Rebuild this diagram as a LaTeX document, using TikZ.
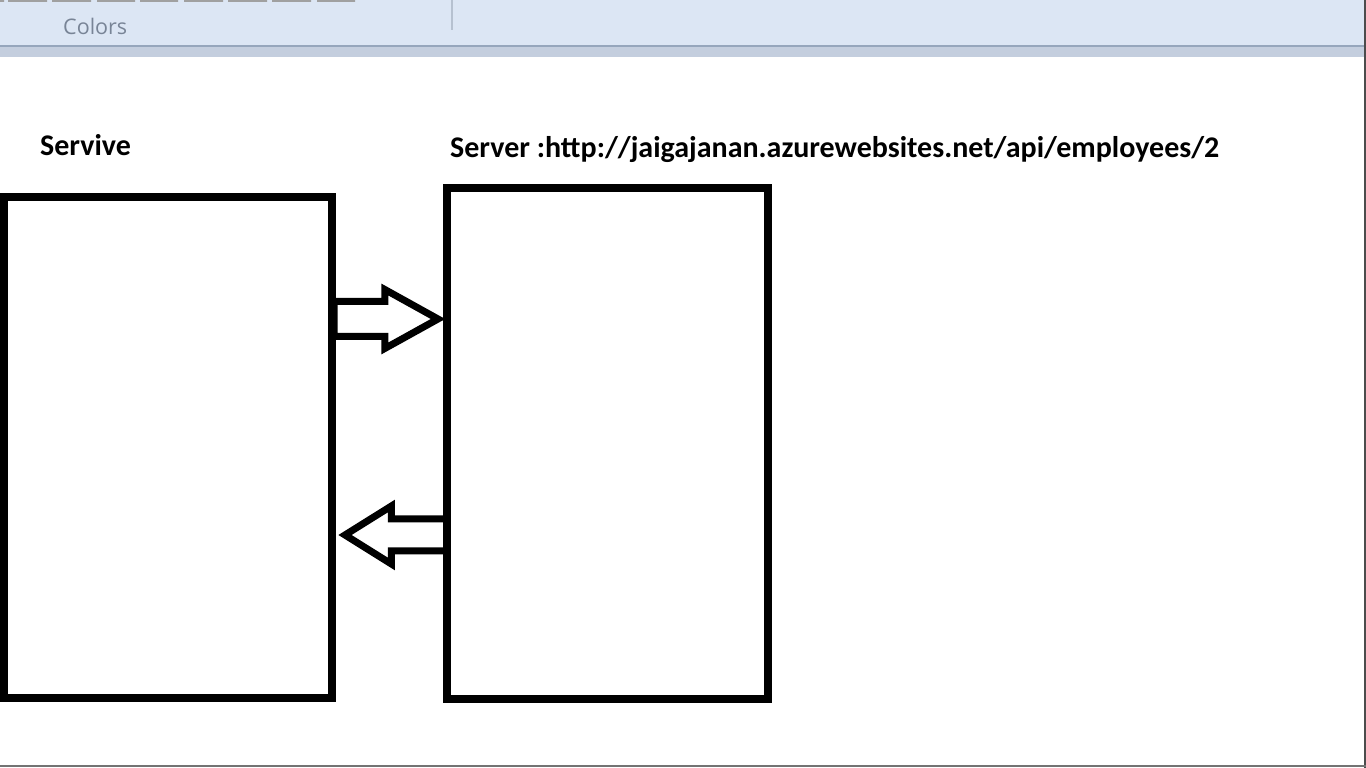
\documentclass[tikz,border=0pt]{standalone}
\usepackage{fontspec}
\setmainfont{Carlito}
\newfontfamily\uifont{Open Sans}
\usetikzlibrary{
  positioning,
  shapes.arrows,
}
\definecolor{ribbonblue}{RGB}{220,230,244}
\definecolor{ribbonband}{RGB}{196,206,222}
\definecolor{ribbonline}{RGB}{150,166,188}
\definecolor{swatchgray}{RGB}{160,160,160}
\definecolor{labelgray}{RGB}{120,132,150}
\tikzstyle{box} = [
  rectangle,
  draw,
  line width=8pt,
  outer sep=0pt,
  inner sep=0pt,
]
\tikzstyle{fatarrow} = [
  single arrow,
  draw,
  line width=7pt,
  outer sep=0pt,
  inner xsep=0pt,
  inner ysep=14pt,
  single arrow head extend=12pt,
  single arrow tip angle=58,
]
\tikzstyle{title} = [
  font=\fontsize{30}{34}\selectfont\bfseries,
  anchor=base west,
  inner sep=0pt,
]

\begin{document}
\begin{tikzpicture}[x=1pt,y=1pt,node distance=0pt and 0pt]
      \useasboundingbox (0,0) rectangle (1366,768);

      % paint ribbon
      \fill[ribbonblue] (0,723) rectangle (1366,768);
      \fill[ribbonband] (0,711) rectangle (1366,721);
      \draw[ribbonline,line width=2pt] (0,721.5) -- (1366,721.5);
      \fill[swatchgray] (0,766) rectangle (4,768) (8,766) rectangle (47,768) (52,766) rectangle (91,768)
        (97,766) rectangle (135,768) (140,766) rectangle (178,768) (184,766) rectangle (223,768)
        (228,766) rectangle (267,768) (272,766) rectangle (311,768) (317,766) rectangle (355,768);
      \draw[ribbonline!70,line width=1.5pt] (452,738) -- (452,768);
      \node[font=\uifont\fontsize{21.5}{24}\selectfont,text=labelgray,anchor=base west,inner sep=0pt] (colors) at (63,733) {Colors};
      \draw[black!70,line width=2pt] (1365,0) -- (1365,768);
      \draw[black!55,line width=2pt] (0,1.5) -- (1366,1.5);

      \node[box,minimum width=328,minimum height=501] (svc) at (168,320.5) {};
      \node[box,minimum width=321,minimum height=511,yshift=4] (srv) [right=115pt of svc] {};

      \node[title] (svclabel) at (40,612) {Servive};
      \node[title] (srvlabel) at (450,610) {Server :http://jaigajanan.azurewebsites.net/api/employees/2};

      \node[fatarrow,minimum height=104,anchor=tail] (request) at ([xshift=2,yshift=128.5]svc.east) {};
      \node[fatarrow,minimum height=102,inner ysep=12.5pt,single arrow head extend=13pt,single arrow tip angle=64,rotate=180,anchor=tail] (response) at ([yshift=-91.5]srv.west) {};

    \end{tikzpicture}
\end{document}
